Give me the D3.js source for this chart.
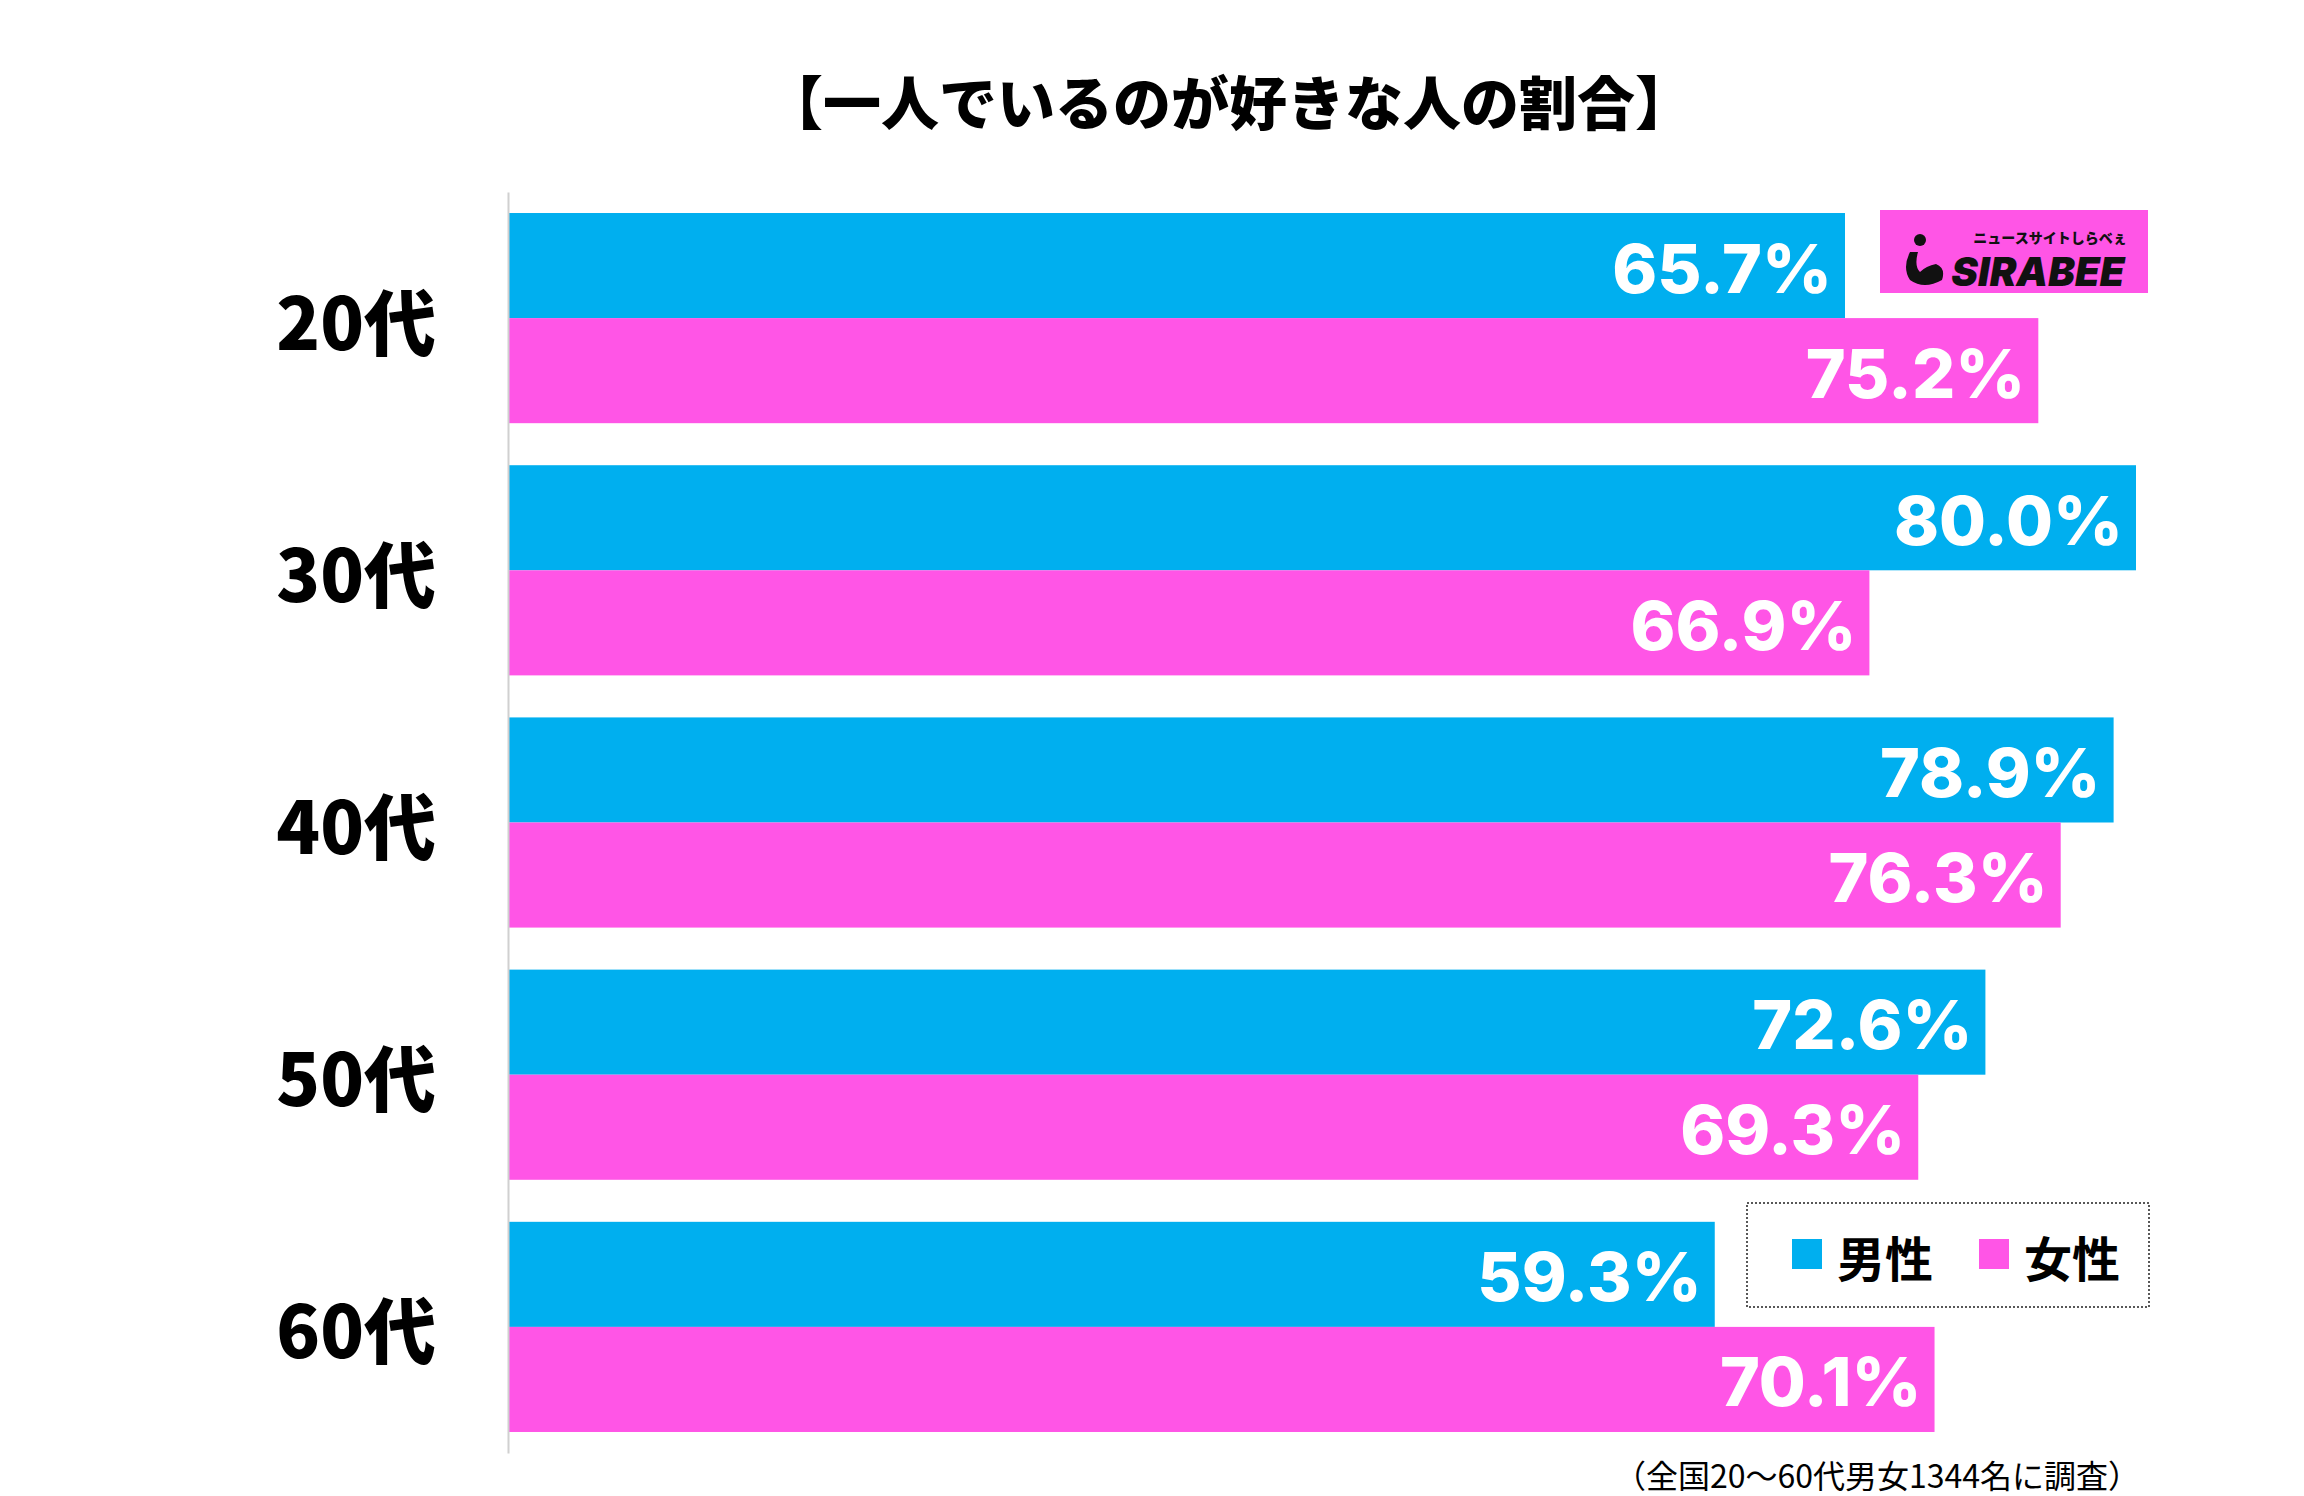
<!DOCTYPE html>
<html><head><meta charset="utf-8">
<script src="https://cdn.jsdelivr.net/npm/d3@7"></script>
<style>html,body{margin:0;padding:0;background:#fff;}svg{display:block;}</style>
</head><body>
<script>
const categories = ["20代","30代","40代","50代","60代"];
const seriesNames = ["男性","女性"];
const maleValues = [65.7, 80.0, 78.9, 72.6, 59.3];
const femaleValues = [75.2, 66.9, 76.3, 69.3, 70.1];
const colors = ["#00AFEF", "#FF55E6"];
const title = "【一人でいるのが好きな人の割合】";
const footnote = "（全国20〜60代男女1344名に調査）";

const W = 2304, H = 1496;
const svg = d3.select("body").append("svg").attr("width", W).attr("height", H);

const x = d3.scaleLinear().domain([0, 100]).range([508, 2543]);
const y = d3.scaleBand().domain(categories).range([192, 1453]).paddingInner(1/6).paddingOuter(1/12);
const ySub = d3.scaleBand().domain(seriesNames).range([0, y.bandwidth()]);

// title
svg.append("text").attr("x", 1229).attr("y", 100)
  .attr("text-anchor", "middle").attr("dominant-baseline", "central")
  .attr("font-family", "'Noto Sans CJK JP'").attr("font-weight", 900)
  .attr("font-size", 58).attr("fill", "#000").text(title);

const data = categories.map((c, i) => ({cat: c, vals: [maleValues[i], femaleValues[i]]}));

const g = svg.append("g");
const groups = g.selectAll("g.grp").data(data).join("g").attr("class", "grp")
  .attr("transform", d => `translate(0,${y(d.cat)})`);

groups.selectAll("rect").data(d => d.vals.map((v, j) => ({v, s: seriesNames[j], j})))
  .join("rect")
  .attr("x", x(0)).attr("y", d => ySub(d.s))
  .attr("width", d => x(d.v) - x(0)).attr("height", ySub.bandwidth())
  .attr("fill", d => colors[d.j]);

groups.selectAll("text.val").data(d => d.vals.map((v, j) => ({v, s: seriesNames[j], j})))
  .join("text").attr("class", "val")
  .attr("x", d => x(d.v) - 13).attr("y", d => ySub(d.s) + ySub.bandwidth() / 2 + 2)
  .attr("text-anchor", "end").attr("dominant-baseline", "central")
  .attr("font-family", "Inter").attr("font-weight", 800).attr("font-size", 68)
  .attr("fill", "#fff").text(d => d.v.toFixed(1) + "%");

// category labels
svg.append("g").selectAll("text").data(categories).join("text")
  .attr("x", 436).attr("y", d => y(d) + y.bandwidth() / 2)
  .attr("text-anchor", "end").attr("dominant-baseline", "central")
  .attr("font-family", "'Noto Sans CJK JP'").attr("font-weight", 900)
  .attr("font-size", 72).attr("fill", "#000").text(d => d);

// axis line
const yAxis = d3.axisLeft(y).tickSize(0).tickFormat("");
svg.append("g").attr("transform", `translate(${x(0)},0)`).call(yAxis)
  .call(s => s.select(".domain").attr("stroke", "#d0d0d0").attr("stroke-width", 2));

// logo
const logo = svg.append("g").attr("transform", "translate(1880,210)");
logo.append("rect").attr("width", 268).attr("height", 83).attr("fill", colors[1]);
logo.append("circle").attr("cx", 40).attr("cy", 30).attr("r", 6).attr("fill", "#111");
logo.append("path").attr("d", "M30,42 Q22,58 30,70 Q44,80 62,70 Q66,58 56,54 Q46,56 40,62 Q34,56 38,42 Z").attr("fill", "#111");
logo.append("text").attr("x", 170).attr("y", 33).attr("text-anchor", "middle")
  .attr("font-family", "'Noto Sans CJK JP'").attr("font-weight", 900).attr("font-size", 14)
  .attr("fill", "#111").text("ニュースサイトしらべぇ");
logo.append("text").attr("x", 158).attr("y", 76).attr("text-anchor", "middle")
  .attr("font-family", "Inter").attr("font-weight", 900).attr("font-size", 40)
  .attr("font-style", "italic").attr("fill", "#111").text("SIRABEE");

// legend
const leg = svg.append("g").attr("transform", "translate(1747,1203)");
leg.append("rect").attr("width", 402).attr("height", 104).attr("fill", "#fff")
  .attr("stroke", "#222").attr("stroke-width", 1.5).attr("stroke-dasharray", "2,2");
const legX = [45, 232];
seriesNames.forEach((n, i) => {
  leg.append("rect").attr("x", legX[i]).attr("y", 36).attr("width", 30).attr("height", 30).attr("fill", colors[i]);
  leg.append("text").attr("x", legX[i] + 45).attr("y", 53).attr("dominant-baseline", "central")
    .attr("font-family", "'Noto Sans CJK JP'").attr("font-weight", 700).attr("font-size", 48)
    .attr("fill", "#000").text(n);
});

// footnote
svg.append("text").attr("x", 2140).attr("y", 1474).attr("text-anchor", "end")
  .attr("dominant-baseline", "central")
  .attr("font-family", "'Noto Sans CJK JP'").attr("font-weight", 400).attr("font-size", 32)
  .attr("fill", "#000").text(footnote);
</script>
</body></html>
